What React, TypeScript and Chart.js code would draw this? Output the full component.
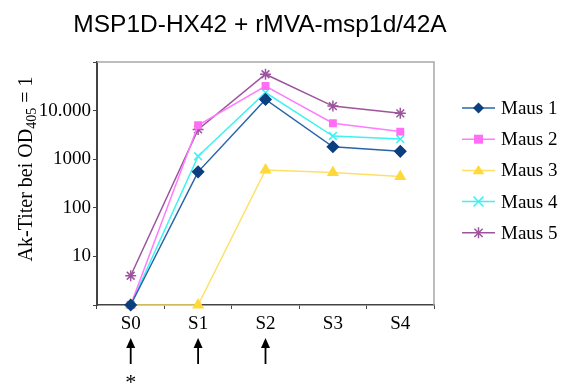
import React, { useEffect, useRef } from "react";
import { Chart, registerables } from "chart.js";

Chart.register(...registerables);

// Sampling points and antibody titres per mouse
const categories = ["S0", "S1", "S2", "S3", "S4"];
const maus1 = [1, 550, 17000, 1800, 1450];
const maus2 = [1, 5000, 32000, 5500, 3700];
const maus3 = [1, 1, 600, 530, 440];
const maus4 = [1, 1150, 23500, 3000, 2600];
const maus5 = [4, 4100, 56000, 12400, 8800];

const seriesNames = ["Maus 1", "Maus 2", "Maus 3", "Maus 4", "Maus 5"];
const yTicks = [1, 10, 100, 1000, 10000, 100000];
const yTickLabels: Record<number, string> = { 10: "10", 100: "100", 1000: "1000", 10000: "10.000" };

// Immunisation time points (arrows) and the priming one (asterisk)
const immunisations = ["S0", "S1", "S2"];
const primed = ["S0"];

const titleText = "MSP1D-HX42 + rMVA-msp1d/42A";

const styles = [
  { line: "#2a64a8", fill: "#0b3f80", point: "rectRot", radius: 5.5 },
  { line: "#ff7bff", fill: "#ff6ef5", point: "rect", radius: 4.5 },
  { line: "#ffe066", fill: "#ffd93a", point: "triangle", radius: 5.5 },
  { line: "#3ef2f2", fill: "#3ef2f2", point: "crossRot", radius: 5.5 },
  { line: "#9c559c", fill: "#9c559c", point: "star", radius: 5.5 },
];

const SERIF = "'Liberation Serif', 'DejaVu Serif', serif";
const SANS = "'Liberation Sans', Arial, sans-serif";

function drawMarker(ctx: CanvasRenderingContext2D, style: string, x: number, y: number, r: number, color: string) {
  ctx.save();
  ctx.fillStyle = color;
  ctx.strokeStyle = color;
  ctx.lineWidth = 1.5;
  ctx.beginPath();
  if (style === "rectRot") {
    ctx.moveTo(x, y - r);
    ctx.lineTo(x + r, y);
    ctx.lineTo(x, y + r);
    ctx.lineTo(x - r, y);
    ctx.closePath();
    ctx.fill();
  } else if (style === "rect") {
    ctx.rect(x - r, y - r, 2 * r, 2 * r);
    ctx.fill();
  } else if (style === "triangle") {
    ctx.moveTo(x, y - r);
    ctx.lineTo(x + r * 1.05, y + r * 0.7);
    ctx.lineTo(x - r * 1.05, y + r * 0.7);
    ctx.closePath();
    ctx.fill();
  } else if (style === "crossRot") {
    const d = r * 0.9;
    ctx.moveTo(x - d, y - d);
    ctx.lineTo(x + d, y + d);
    ctx.moveTo(x + d, y - d);
    ctx.lineTo(x - d, y + d);
    ctx.stroke();
  } else {
    const d = r * 0.75;
    ctx.moveTo(x - d, y - d);
    ctx.lineTo(x + d, y + d);
    ctx.moveTo(x + d, y - d);
    ctx.lineTo(x - d, y + d);
    ctx.moveTo(x, y - r);
    ctx.lineTo(x, y + r);
    ctx.stroke();
  }
  ctx.restore();
}

const decorations = {
  id: "decorations",
  beforeDatasetsDraw(chart: any) {
    const { ctx, chartArea } = chart;
    // light frame on top and right
    ctx.save();
    ctx.strokeStyle = "#a8a8a8";
    ctx.lineWidth = 1.5;
    ctx.beginPath();
    ctx.moveTo(chartArea.left, chartArea.top);
    ctx.lineTo(chartArea.right, chartArea.top);
    ctx.lineTo(chartArea.right, chartArea.bottom);
    ctx.stroke();
    ctx.restore();
  },
  afterDraw(chart: any) {
    const { ctx, scales } = chart;
    ctx.save();

    // title
    ctx.fillStyle = "#000";
    ctx.font = `24.5px ${SANS}`;
    ctx.textAlign = "center";
    ctx.textBaseline = "alphabetic";
    ctx.fillText(titleText, 260, 32);

    // y axis title with subscript
    const big = `20px ${SERIF}`;
    const small = `14px ${SERIF}`;
    const p1 = "Ak-Titer bei OD";
    const p2 = "405";
    const p3 = " = 1";
    ctx.font = big;
    const w1 = ctx.measureText(p1).width;
    const w3 = ctx.measureText(p3).width;
    ctx.font = small;
    const w2 = ctx.measureText(p2).width;
    const total = w1 + w2 + w3;
    ctx.translate(32, 169);
    ctx.rotate(-Math.PI / 2);
    ctx.textAlign = "left";
    let x0 = -total / 2;
    ctx.font = big;
    ctx.fillText(p1, x0, 0);
    x0 += w1;
    ctx.font = small;
    ctx.fillText(p2, x0, 4);
    x0 += w2;
    ctx.font = big;
    ctx.fillText(p3, x0, 0);
    ctx.setTransform(1, 0, 0, 1, 0, 0);

    // arrows for immunisations
    ctx.strokeStyle = "#000";
    ctx.fillStyle = "#000";
    ctx.lineWidth = 1.8;
    immunisations.forEach((c) => {
      const x = scales.x.getPixelForValue(categories.indexOf(c));
      ctx.beginPath();
      ctx.moveTo(x, 346);
      ctx.lineTo(x, 364);
      ctx.stroke();
      ctx.beginPath();
      ctx.moveTo(x, 338);
      ctx.lineTo(x + 4.5, 348);
      ctx.lineTo(x - 4.5, 348);
      ctx.closePath();
      ctx.fill();
    });
    ctx.font = `22px ${SERIF}`;
    ctx.textAlign = "center";
    primed.forEach((c) => {
      const x = scales.x.getPixelForValue(categories.indexOf(c));
      ctx.fillText("*", x, 389);
    });

    // legend
    const lx = 462;
    const lw = 33;
    const ly0 = 108;
    const step = 31.2;
    seriesNames.forEach((name, i) => {
      const st = styles[i];
      const y = ly0 + i * step;
      ctx.strokeStyle = st.line;
      ctx.lineWidth = 1.5;
      ctx.beginPath();
      ctx.moveTo(lx, y);
      ctx.lineTo(lx + lw, y);
      ctx.stroke();
      drawMarker(ctx, st.point, lx + lw / 2, y, st.radius, st.fill);
      ctx.fillStyle = "#000";
      ctx.font = `19px ${SERIF}`;
      ctx.textAlign = "left";
      ctx.textBaseline = "middle";
      ctx.fillText(name, 501, y + 1);
    });
    ctx.restore();
  },
};

export default function App() {
  const ref = useRef<HTMLCanvasElement | null>(null);

  useEffect(() => {
    if (!ref.current) return;
    const seriesData = [maus1, maus2, maus3, maus4, maus5];
    const chart = new Chart(ref.current, {
      type: "line",
      data: {
        labels: categories,
        datasets: seriesData.map((d, i) => ({
          label: seriesNames[i],
          data: d,
          borderColor: styles[i].line,
          backgroundColor: styles[i].fill,
          pointBorderColor: styles[i].fill,
          pointBackgroundColor: styles[i].fill,
          pointStyle: styles[i].point as any,
          pointRadius: styles[i].radius,
          pointBorderWidth: 1.5,
          borderWidth: 1.5,
          tension: 0,
          clip: false as any,
        })),
      },
      options: {
        responsive: false,
        animation: false,
        layout: { padding: { top: 62, right: 132, left: 0, bottom: 0 } },
        plugins: {
          legend: { display: false },
          title: { display: false },
          tooltip: { enabled: false },
        },
        scales: {
          x: {
            offset: true,
            grid: {
              offset: true,
              drawOnChartArea: false,
              drawTicks: true,
              tickLength: 4,
              color: "#444",
            },
            border: { color: "#444", width: 1.5 },
            ticks: {
              color: "#000",
              font: { family: SERIF, size: 19 },
              padding: 4,
              maxRotation: 0,
            },
            afterFit: (s: any) => {
              s.height = 78;
            },
          },
          y: {
            type: "logarithmic",
            min: 1,
            max: 100000,
            grid: {
              drawOnChartArea: false,
              drawTicks: true,
              tickLength: 4,
              color: "#444",
            },
            border: { color: "#444", width: 2 },
            afterBuildTicks: (s: any) => {
              s.ticks = yTicks.map((v) => ({ value: v }));
            },
            ticks: {
              color: "#000",
              font: { family: SERIF, size: 19 },
              padding: 2,
              autoSkip: false,
              callback: (v: any) => yTickLabels[Number(v)] ?? "",
            },
            afterFit: (s: any) => {
              s.width = 97;
            },
          },
        },
      },
      plugins: [decorations],
    });
    return () => chart.destroy();
  }, []);

  return (
    <div style={{ position: "fixed", left: 0, top: 0, width: 566, height: 383, background: "#fff" }}>
      <canvas ref={ref} width={566} height={383} style={{ display: "block" }} />
    </div>
  );
}
